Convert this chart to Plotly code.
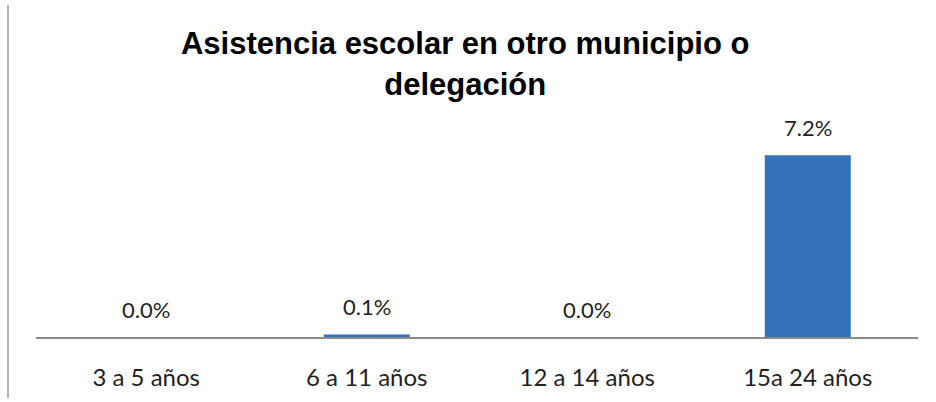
import plotly.graph_objects as go

categorias = ["3 a 5 años", "6 a 11 años", "12 a 14 años", "15a 24 años"]
porcentajes = [0.0, 0.1, 0.0, 7.2]
etiquetas = ["0.0%", "0.1%", "0.0%", "7.2%"]

W, H = 936, 402
margin = dict(l=36, r=18, t=135, b=65)
plot_w = W - margin["l"] - margin["r"]
plot_h = H - margin["t"] - margin["b"]

fig = go.Figure()
fig.add_trace(go.Bar(
    x=categorias,
    y=porcentajes,
    marker=dict(color="#3471bb", line=dict(width=0)),
    hoverinfo="skip",
))

for c, v, t in zip(categorias, porcentajes, etiquetas):
    fig.add_annotation(
        x=c, y=v, text=t, showarrow=False,
        yanchor="bottom", yshift=12,
        font=dict(family="Lato, Open Sans, sans-serif", size=22, color="#1f1f1f"),
    )

# left frame line of the chart area
fig.add_shape(
    type="line", xref="paper", yref="paper",
    x0=(8 - margin["l"]) / plot_w, x1=(8 - margin["l"]) / plot_w,
    y0=(H - margin["b"] - 398) / plot_h, y1=(H - margin["b"] - 5) / plot_h,
    line=dict(color="#9a9a9a", width=1.5),
)

fig.update_layout(
    width=W, height=H,
    margin=margin,
    paper_bgcolor="white",
    plot_bgcolor="white",
    showlegend=False,
    bargap=0.61,
    title=dict(
        text="<b>Asistencia escolar en otro municipio o<br>delegación</b>",
        x=0.497, xanchor="center", y=0.865, yanchor="top",
        font=dict(family="Arial, Liberation Sans, sans-serif", size=31, color="black"),
        automargin=False,
    ),
    xaxis=dict(
        showline=True, linecolor="#8a8a8a", linewidth=1.5,
        showgrid=False, ticks="", ticklabelstandoff=18, automargin=False,
        tickfont=dict(family="Lato, Open Sans, sans-serif", size=24, color="#1f1f1f"),
    ),
    yaxis=dict(
        range=[0, 8], visible=False, showgrid=False, zeroline=False,
        automargin=False,
    ),
)

# drop the default page margin so the figure sits at the window's corner
fig.write_html(
    "out.html",
    config={"displayModeBar": False},
    post_script="document.body.style.margin='0';",
)
